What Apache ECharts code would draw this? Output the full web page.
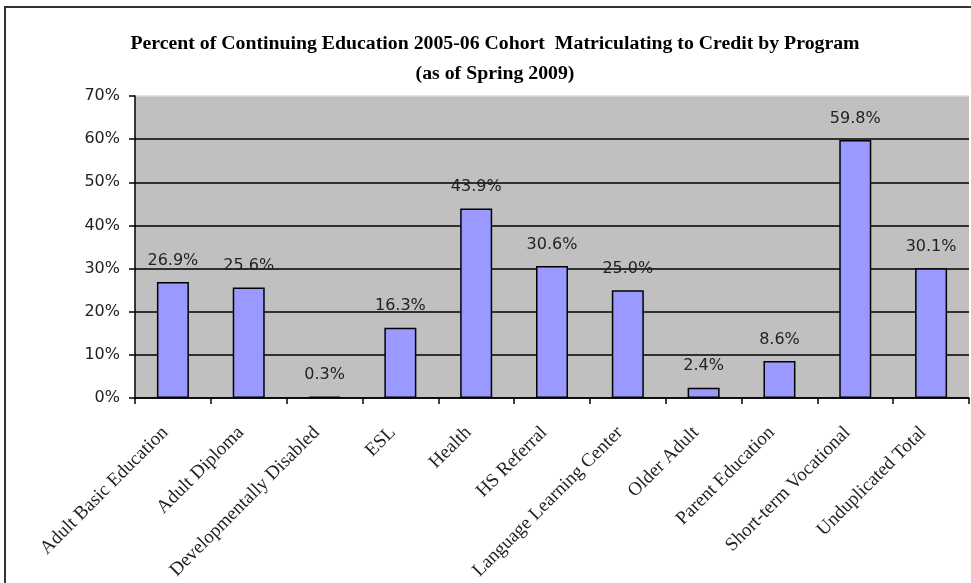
<!DOCTYPE html>
<html><head><meta charset="utf-8">
<script src="https://cdn.jsdelivr.net/npm/echarts@6/dist/echarts.min.js"></script>
<style>html,body{margin:0;padding:0;background:#fff}#c{width:971px;height:583px}</style>
</head><body><div id="c"></div>
<script>
var categories = ["Adult Basic Education","Adult Diploma","Developmentally Disabled","ESL","Health","HS Referral","Language Learning Center","Older Adult","Parent Education","Short-term Vocational","Unduplicated Total"];
var values = [26.9, 25.6, 0.3, 16.3, 43.9, 30.6, 25.0, 2.4, 8.6, 59.8, 30.1];
var yTicks = [0,10,20,30,40,50,60,70];

var chart = echarts.init(document.getElementById('c'));
chart.setOption({
  animation:false,
  title:{
    text:'Percent of Continuing Education 2005-06 Cohort  Matriculating to Credit by Program\n(as of Spring 2009)',
    left:490, textAlign:'center', top:24,
    textStyle:{fontFamily:'Liberation Serif', fontWeight:'bold', fontSize:19.8, lineHeight:30, color:'#000'}
  },
  graphic:[{type:'rect', shape:{x:5,y:7,width:1000,height:620}, style:{fill:'none', stroke:'#333', lineWidth:2}, z:-1}],
  grid:{left:135, right:2, top:96, bottom:185, show:true, backgroundColor:'#c0c0c0', borderWidth:0},
  xAxis:{
    type:'category', data:categories,
    axisLine:{lineStyle:{color:'#000', width:1.5}},
    axisTick:{show:true, length:6, lineStyle:{color:'#000', width:1.5}},
    axisLabel:{rotate:45, interval:0, margin:24, padding:[0,11,0,0], fontFamily:'Liberation Serif', fontSize:19, color:'#222'}
  },
  yAxis:{
    type:'value', min:0, max:70, interval:10,
    axisLine:{show:true, lineStyle:{color:'#000', width:1.5}},
    axisTick:{show:true, length:6, lineStyle:{color:'#000', width:1.5}},
    axisLabel:{formatter:function(v){return yTicks.indexOf(v)>=0 ? v+'%' : '';}, margin:15, fontFamily:'DejaVu Sans', fontSize:16, color:'#222'},
    splitLine:{show:true, lineStyle:{color:['#000','#000','#000','#000','#000','#000','#000','#d8d8d8'], width:1.5}}
  },
  series:[{
    type:'bar', data:values, barWidth:32,
    itemStyle:{color:'#9999ff', borderColor:'#000', borderWidth:1.5},
    label:{show:true, position:'top', distance:13.5, formatter:function(p){return p.value.toFixed(1)+'%';}, fontFamily:'DejaVu Sans', fontSize:16, color:'#222'}
  }]
});
</script></body></html>
